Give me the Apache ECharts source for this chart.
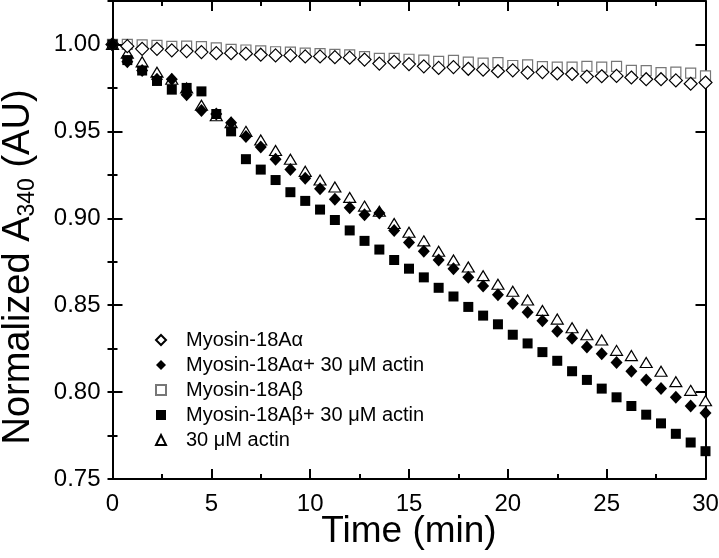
<!DOCTYPE html>
<html>
<head>
<meta charset="utf-8">
<script src="https://cdn.jsdelivr.net/npm/echarts@6/dist/echarts.min.js"></script>
<style>
html,body{margin:0;padding:0;background:#fff;}
#chart{width:719px;height:558px;}
</style>
</head>
<body>
<div id="chart"></div>
<script>
// Time points (min)
var time = [0,0.75,1.5,2.25,3,3.75,4.5,5.25,6,6.75,7.5,8.25,9,9.75,10.5,11.25,12,12.75,13.5,14.25,15,15.75,16.5,17.25,18,18.75,19.5,20.25,21,21.75,22.5,23.25,24,24.75,25.5,26.25,27,27.75,28.5,29.25,30];

// Myosin-18Aα (open diamond)
var alphaOnly = [1.000,0.9990,0.9975,0.9975,0.9966,0.9962,0.9956,0.9950,0.9950,0.9947,0.9941,0.9937,0.9937,0.9931,0.9931,0.9927,0.9924,0.9913,0.9890,0.9900,0.9887,0.9874,0.9865,0.9870,0.9860,0.9855,0.9846,0.9851,0.9838,0.9841,0.9833,0.9830,0.9815,0.9817,0.9819,0.9810,0.9800,0.9800,0.9793,0.9774,0.9781];

// Myosin-18Aα + 30 µM actin (filled diamond)
var alphaActin = [1.000,0.990,0.985,0.980,0.980,0.971,0.962,0.960,0.955,0.947,0.941,0.934,0.928,0.923,0.917,0.911,0.906,0.902,0.903,0.893,0.886,0.881,0.876,0.871,0.866,0.861,0.856,0.851,0.846,0.841,0.835,0.831,0.826,0.822,0.817,0.812,0.807,0.802,0.797,0.792,0.788];

// Myosin-18Aβ (open square)
var betaOnly = [1.000,1.000,0.9998,0.9995,0.9989,0.9990,0.9988,0.9980,0.9972,0.9968,0.9963,0.9958,0.9956,0.9950,0.9947,0.9943,0.9940,0.9930,0.9920,0.9920,0.9915,0.9910,0.9903,0.9908,0.9898,0.9893,0.9895,0.9879,0.9882,0.9872,0.9870,0.9870,0.9874,0.9870,0.9874,0.9851,0.9849,0.9838,0.9841,0.9835,0.9819];

// Myosin-18Aβ + 30 µM actin (filled square)
var betaActin = [1.000,0.991,0.985,0.979,0.974,0.975,0.973,0.960,0.950,0.934,0.928,0.922,0.915,0.910,0.905,0.899,0.893,0.887,0.882,0.876,0.871,0.866,0.860,0.855,0.849,0.844,0.839,0.833,0.828,0.823,0.818,0.812,0.807,0.802,0.797,0.792,0.787,0.782,0.776,0.771,0.766];

// 30 µM actin (open triangle)
var actinOnly = [1.000,0.995,0.990,0.984,0.980,0.975,0.965,0.959,0.955,0.950,0.945,0.939,0.934,0.927,0.922,0.918,0.912,0.907,0.904,0.897,0.892,0.887,0.881,0.876,0.872,0.867,0.862,0.858,0.853,0.847,0.842,0.837,0.833,0.830,0.824,0.821,0.817,0.812,0.806,0.801,0.795];

var seriesNames = ['Myosin-18A\u03b1','Myosin-18A\u03b1+ 30 \u03bcM actin','Myosin-18A\u03b2','Myosin-18A\u03b2+ 30 \u03bcM actin','30 \u03bcM actin'];

var xTicks = {min:0, max:30, interval:5};
var yTicks = {min:0.75, max:1.025, major:0.05, minor:0.025};

function pairs(vals){ return time.map(function(t,i){ return [t, vals[i]]; }); }

var FONT = 'Liberation Sans, Arial, Helvetica, sans-serif';
var lineStyle = {color:'#000', width:2};

var chart = echarts.init(document.getElementById('chart'), null, {renderer:'canvas'});
var option = {
  animation:false,
  backgroundColor:'#fff',
  textStyle:{fontFamily:FONT},
  grid:{left:112.5, right:13.5, top:1, bottom:79, containLabel:false, outerBoundsMode:'none'},
  legend:{
    orient:'vertical', left:150, top:325,
    itemWidth:10, itemHeight:10, itemGap:5,
    textStyle:{fontFamily:FONT, fontSize:20, lineHeight:20, color:'#000', padding:[0,0,0,15]},
    data:seriesNames
  },
  xAxis:[
    {type:'value', position:'bottom', min:xTicks.min, max:xTicks.max, interval:xTicks.interval,
     axisLine:{show:true, onZero:false, lineStyle:lineStyle},
     axisTick:{show:true, inside:true, length:10, lineStyle:lineStyle},
     minorTick:{show:true, splitNumber:2, length:5, lineStyle:lineStyle},
     splitLine:{show:false}, minorSplitLine:{show:false},
     axisLabel:{fontSize:24, color:'#000', margin:13, fontFamily:FONT},
     name:'Time (min)', nameLocation:'middle', nameGap:34, nameMoveOverlap:false,
     nameTextStyle:{fontSize:37, color:'#000', fontFamily:FONT}},
    {type:'value', position:'top', min:xTicks.min, max:xTicks.max, interval:xTicks.interval,
     axisLine:{show:true, onZero:false, lineStyle:lineStyle},
     axisTick:{show:true, inside:true, length:10, lineStyle:lineStyle},
     minorTick:{show:true, splitNumber:2, length:5, lineStyle:lineStyle},
     splitLine:{show:false}, axisLabel:{show:false}}
  ],
  yAxis:[
    {type:'value', position:'left', min:yTicks.min, max:yTicks.max, interval:yTicks.major,
     axisLine:{show:true, onZero:false, lineStyle:lineStyle},
     axisTick:{show:true, inside:true, length:10, lineStyle:lineStyle},
     splitLine:{show:false},
     axisLabel:{fontSize:24, color:'#000', margin:12, fontFamily:FONT,
       formatter:function(v){ return v > 1.01 ? '' : v.toFixed(2); }},
     name:'{a|Normalized A}{s|340}{a| (AU)}', nameLocation:'middle', nameGap:73, nameRotate:90, nameMoveOverlap:false,
     nameTextStyle:{color:'#000', fontFamily:FONT, padding:[0,54,0,0],
       rich:{a:{fontSize:38, color:'#000', fontFamily:FONT},
             s:{fontSize:23, color:'#000', fontFamily:FONT, padding:[18,0,0,0]}}}},
    {type:'value', position:'left', min:yTicks.min, max:yTicks.max, interval:yTicks.minor,
     axisLine:{show:false}, axisTick:{show:true, inside:true, length:5, lineStyle:lineStyle},
     splitLine:{show:false}, axisLabel:{show:false}},
    {type:'value', position:'right', min:yTicks.min, max:yTicks.max, interval:yTicks.major,
     axisLine:{show:true, onZero:false, lineStyle:lineStyle},
     axisTick:{show:true, inside:true, length:10, lineStyle:lineStyle},
     splitLine:{show:false}, axisLabel:{show:false}},
    {type:'value', position:'right', min:yTicks.min, max:yTicks.max, interval:yTicks.minor,
     axisLine:{show:false}, axisTick:{show:true, inside:true, length:5, lineStyle:lineStyle},
     splitLine:{show:false}, axisLabel:{show:false}}
  ],
  series:[
    {name:seriesNames[0], type:'scatter', data:pairs(alphaOnly), symbol:'diamond', symbolSize:13, z:6,
     itemStyle:{color:'#fff', borderColor:'#000', borderWidth:1.2, opacity:1}},
    {name:seriesNames[1], type:'scatter', data:pairs(alphaActin), symbol:'diamond', symbolSize:[12,13], z:7,
     itemStyle:{color:'#000', borderColor:'#000', borderWidth:0, opacity:1}},
    {name:seriesNames[2], type:'scatter', data:pairs(betaOnly), symbol:'rect', symbolSize:10, z:2,
     itemStyle:{color:'#fff', borderColor:'#777', borderWidth:1.2, opacity:1}},
    {name:seriesNames[3], type:'scatter', data:pairs(betaActin), symbol:'rect', symbolSize:10, z:4,
     itemStyle:{color:'#000', borderColor:'#000', borderWidth:0, opacity:1}},
    {name:seriesNames[4], type:'scatter', data:pairs(actinOnly), symbol:'triangle', symbolSize:[12,10], z:3,
     itemStyle:{color:'#fff', borderColor:'#000', borderWidth:1.2, opacity:1}}
  ]
};
chart.setOption(option);
</script>
</body>
</html>
